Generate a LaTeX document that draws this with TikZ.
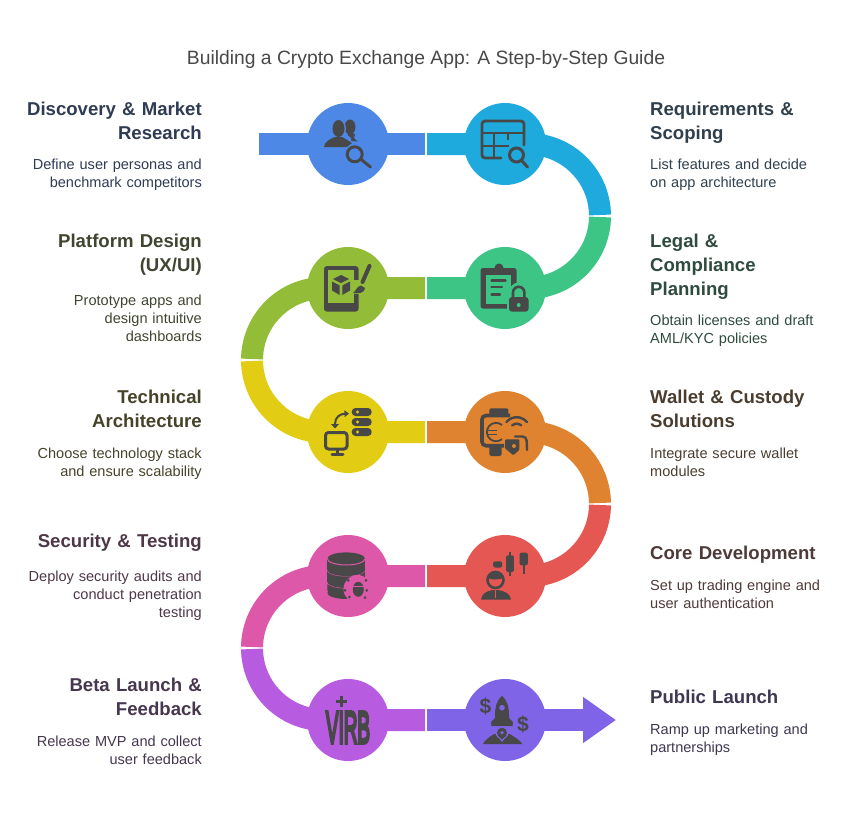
\documentclass[tikz,border=0pt]{standalone}
\usepackage{fontspec}
\setmainfont{Liberation Sans}
\newfontfamily\virbfont[FakeBold=8]{Liberation Sans}
\usetikzlibrary{positioning,arrows.meta,backgrounds,calc}

\definecolor{cDisc}{HTML}{4E88E7}
\definecolor{cReq}{HTML}{1FAADD}
\definecolor{cLegal}{HTML}{3DC585}
\definecolor{cDesign}{HTML}{93BC38}
\definecolor{cTech}{HTML}{E2CD14}
\definecolor{cWallet}{HTML}{DF8330}
\definecolor{cCore}{HTML}{E55753}
\definecolor{cSec}{HTML}{DD58A8}
\definecolor{cBeta}{HTML}{B75CE0}
\definecolor{cPub}{HTML}{7F64E8}
\definecolor{icon}{HTML}{484848}
\definecolor{tDisc}{HTML}{2F3B52}
\definecolor{tReq}{HTML}{2F3F4C}
\definecolor{tLegal}{HTML}{2F4A3E}
\definecolor{tDesign}{HTML}{3F4530}
\definecolor{tTech}{HTML}{45432A}
\definecolor{tWallet}{HTML}{4A3D30}
\definecolor{tCore}{HTML}{4E3A38}
\definecolor{tSec}{HTML}{4D3746}
\definecolor{tBeta}{HTML}{46364F}
\definecolor{tPub}{HTML}{3E3750}

% magnifier: x, y, radius, handle end x, y, ground colour
\newcommand{\magglass}[6]{
	\fill[#6] (#1,#2) circle ({#3+3});
	\draw[icon,line width=3pt] (#1,#2) circle (#3);
	\draw[icon,line width=3pt,line cap=round] ($(#1,#2)!#3*1pt!(#4,#5)$) -- (#4,#5);
}

\tikzset{
	stepnode/.style={circle,minimum size=82pt,inner sep=0pt,fill=#1},
	bar/.style={line width=22pt,draw=#1},
	headL/.style={text width=190pt,inner sep=0pt,align=right,anchor=north east,
		font=\fontsize{18.6}{24}\selectfont\bfseries},
	headR/.style={text width=190pt,inner sep=0pt,align=left,anchor=north west,
		font=\fontsize{18.6}{24}\selectfont\bfseries},
	descL/.style={text width=190pt,inner sep=0pt,align=right,
		font=\fontsize{14.55}{18}\selectfont},
	descR/.style={text width=190pt,inner sep=0pt,align=left,
		font=\fontsize{14.55}{18}\selectfont},
}

\begin{document}
\begin{tikzpicture}[x=1pt,y=1pt]
	\useasboundingbox (0,0) rectangle (852,-816);

	\node[text=icon,font=\fontsize{19.3}{22}\selectfont,inner sep=0pt] (title) at (426,-60)
		{Building a Crypto Exchange App: A Step-by-Step Guide};

	% the ten stops
	\node[stepnode=cDisc] (disc) at (348,-144) {};
	\node[stepnode=cReq] (req) at (505,-144) {};
	\node[stepnode=cDesign] (design) at (348,-288) {};
	\node[stepnode=cLegal] (legal) at (505,-288) {};
	\node[stepnode=cTech] (tech) at (348,-432) {};
	\node[stepnode=cWallet] (wallet) at (505,-432) {};
	\node[stepnode=cSec] (sec) at (348,-576) {};
	\node[stepnode=cCore] (core) at (505,-576) {};
	\node[stepnode=cBeta] (beta) at (348,-720) {};
	\node[stepnode=cPub] (pub) at (505,-720) {};

	\coordinate (start) at (259,-144);
	\coordinate (m1) at (426,-144);
	\coordinate (m2) at (426,-288);
	\coordinate (m3) at (426,-432);
	\coordinate (m4) at (426,-576);
	\coordinate (m5) at (426,-720);
	\coordinate (tip) at (616,-720);

	\begin{scope}[on background layer]
		\draw[bar=cDisc,shorten >=1pt] (start) -- (m1);
		\draw[bar=cReq] (m1) ++(1,0) -- (528,-144) arc[start angle=90,end angle=0.8,radius=72pt];
		\draw[bar=cLegal] (m2) ++(1,0) -- (528,-288) arc[start angle=-90,end angle=-0.8,radius=72pt];
		\draw[bar=cDesign] (m2) ++(-1,0) -- (324,-288) arc[start angle=90,end angle=179.2,radius=72pt];
		\draw[bar=cTech] (m3) ++(-1,0) -- (324,-432) arc[start angle=270,end angle=180.8,radius=72pt];
		\draw[bar=cWallet] (m3) ++(1,0) -- (528,-432) arc[start angle=90,end angle=0.8,radius=72pt];
		\draw[bar=cCore] (m4) ++(1,0) -- (528,-576) arc[start angle=-90,end angle=-0.8,radius=72pt];
		\draw[bar=cSec] (m4) ++(-1,0) -- (324,-576) arc[start angle=90,end angle=179.2,radius=72pt];
		\draw[bar=cBeta] (m5) ++(-1,0) -- (324,-720) arc[start angle=270,end angle=180.8,radius=72pt];
		\draw[bar=cPub,-{Triangle[width=44pt,length=33pt]}] (m5) ++(1,0) -- (tip);
	\end{scope}

	% left texts
	\node[headL,text=tDisc] (hDisc) at (202,-102) {Discovery \& Market\\Research};
	\node[descL,text=tDisc,below=19pt of hDisc] (dDisc) {Define user personas and\\benchmark competitors};
	\node[headL,text=tDesign] (hDesign) at (202,-234) {Platform Design\\(UX/UI)};
	\node[descL,text=tDesign,below=19pt of hDesign] (dDesign) {Prototype apps and\\design intuitive\\dashboards};
	\node[headL,text=tTech] (hTech) at (202,-390) {Technical\\Architecture};
	\node[descL,text=tTech,below=20pt of hTech] (dTech) {Choose technology stack\\and ensure scalability};
	\node[headL,text=tSec] (hSec) at (202,-534) {Security \& Testing};
	\node[descL,text=tSec,below=19pt of hSec] (dSec) {Deploy security audits and\\conduct penetration\\testing};
	\node[headL,text=tBeta] (hBeta) at (202,-678) {Beta Launch \&\\Feedback};
	\node[descL,text=tBeta,below=20pt of hBeta] (dBeta) {Release MVP and collect\\user feedback};

	% right texts
	\node[headR,text=tReq] (hReq) at (650,-102) {Requirements \&\\Scoping};
	\node[descR,text=tReq,below=15pt of hReq] (dReq) {List features and decide\\on app architecture};
	\node[headR,text=tLegal] (hLegal) at (650,-234) {Legal \&\\Compliance\\Planning};
	\node[descR,text=tLegal,below=15pt of hLegal] (dLegal) {Obtain licenses and draft\\AML/KYC policies};
	\node[headR,text=tWallet] (hWallet) at (650,-390) {Wallet \& Custody\\Solutions};
	\node[descR,text=tWallet,below=20pt of hWallet] (dWallet) {Integrate secure wallet\\modules};
	\node[headR,text=tCore] (hCore) at (650,-546) {Core Development};
	\node[descR,text=tCore,below=16pt of hCore] (dCore) {Set up trading engine and\\user authentication};
	\node[headR,text=tPub] (hPub) at (650,-690) {Public Launch};
	\node[descR,text=tPub,below=20pt of hPub] (dPub) {Ramp up marketing and\\partnerships};

	% people and magnifier
	\begin{scope}[shift={(disc.center)}]
		\fill[icon] (2,17) ellipse (5.5 and 7.5);
		\fill[icon] (0,12) -- (7,10) -- (6,6) -- (9.5,2.5) -- (4,3) -- (0,5) -- cycle;
		\fill[cDisc] (-9.5,15.5) ellipse (7.5 and 9.5);
		\fill[cDisc] (-5,12) -- (3,6) -- (3,-2) -- (-5,0) -- cycle;
		\fill[icon] (-9.5,15.5) ellipse (6 and 8.5);
		\fill[icon] (-24,-3) .. controls (-24,2) and (-18,5) .. (-13,7) -- (-6,7)
			.. controls (-2,5) and (2,2) .. (4,1) -- (-1,-3) -- cycle;
		\magglass{6.7}{-10.3}{7.5}{22.5}{-23}{cDisc}
	\end{scope}

	% table and magnifier
	\begin{scope}[shift={(req.center)},icon]
		\draw[line width=2.8pt,rounded corners=3pt,line cap=round] (19,-1) -- (19,23) -- (-23,23) -- (-23,-14) -- (-4,-14);
		\draw[line width=2.8pt] (-23,11) -- (19,11);
		\draw[line width=2.8pt] (-23,-2) -- (4,-2);
		\draw[line width=2.8pt] (-11,11) -- (-11,-14);
		\draw[line width=2.8pt] (3,11) -- (3,4);
		\magglass{11.5}{-11}{7}{22.5}{-23}{cReq}
	\end{scope}

	% tablet with cube and brush
	\begin{scope}[shift={(design.center)}]
		\fill[icon,rounded corners=3pt] (-24,22) rectangle (10.5,-23.7);
		\fill[cDesign] (-19.7,18) rectangle (6,-15);
		\fill[cDesign] (6,8) rectangle (12,-6);
		\fill[icon] (-7,13) -- (1,9) -- (-7,5) -- (-15,9) -- cycle;
		\fill[icon] (-16,6.5) -- (-8.3,2.5) -- (-8.3,-7) -- (-16,-2.5) -- cycle;
		\fill[icon] (2,6.5) -- (-5.7,2.5) -- (-5.7,-7) -- (2,-2.5) -- cycle;
		\draw[icon,line width=4pt,line cap=round] (21.5,22) -- (14.5,6);
		\fill[icon] (13,2.5) .. controls (9,2) and (8,-3) .. (5,-5) .. controls (10,-6) and (17,-5) .. (17,0) -- cycle;
	\end{scope}

	% clipboard and lock
	\begin{scope}[shift={(legal.center)}]
		\fill[icon,rounded corners=2.5pt] (-24.5,20) rectangle (11.5,-20.5);
		\fill[icon] (-6,20) circle (4.5);
		\fill[cLegal] (-19.5,13) rectangle (6,-15.5);
		\draw[icon,line width=2.4pt,line cap=round] (-13.5,7.5) -- (0.5,7.5) (-13.5,1) -- (-3,1) (-13.5,-6.5) -- (-5,-6.5);
		\fill[cLegal,rounded corners=3pt] (2,-6) rectangle (26,-26);
		\fill[cLegal] (13.7,-4) circle (9.5);
		\draw[icon,line width=2.6pt] (8,-10) -- (8,-4.5) arc[start angle=180,end angle=0,radius=5.7] -- (19.4,-10);
		\fill[icon,rounded corners=3pt] (4,-9) rectangle (23.5,-23.7);
		\fill[cLegal] (13.7,-17) circle (2);
	\end{scope}

	% servers and monitor
	\begin{scope}[shift={(tech.center)}]
		\foreach \yy in {20,10,0} {
			\fill[icon,rounded corners=3.8pt] (3.7,\yy+4) rectangle (23.7,\yy-4);
			\fill[cTech] (9.5,\yy) circle (1.7);
		}
		\draw[icon,line width=3pt,rounded corners=3pt] (-22.5,-0.5) rectangle (-1,-17);
		\fill[icon] (-11.7,-17) rectangle (-9.3,-22);
		\draw[icon,line width=3pt,line cap=round] (-16,-22) -- (-5,-22);
		\draw[icon,line width=2pt,-{Triangle[width=6.5pt,length=4.5pt]}] (-13,8) .. controls (-13,15) and (-8,18) .. (1,18.5);
		\fill[icon] (-13,3.5) -- (-17,8) -- (-9,8) -- cycle;
	\end{scope}

	% watch, euro and wallet
	\begin{scope}[shift={(wallet.center)}]
		\fill[icon,rounded corners=1.5pt] (-15.7,23.7) rectangle (3.3,16);
		\fill[icon,rounded corners=1.5pt] (-15.7,-14) rectangle (-3.3,-24);
		\draw[icon,line width=3.6pt,rounded corners=4pt] (5,16.5) -- (-23,16.5) -- (-23,-13.7) -- (-1,-13.7);
		\draw[icon,line width=1.8pt] (-3,7) arc[start angle=50,end angle=310,radius=9.2];
		\draw[icon,line width=1.6pt] (-17,1.5) -- (-8,1.5) (-17,-2.5) -- (-8,-2.5);
		\draw[icon,line width=2.4pt,line cap=round] (11.7,1.3) ++(140:13.5) arc[start angle=140,end angle=40,radius=13.5];
		\draw[icon,line width=2.4pt,line cap=round] (11.7,1.3) ++(130:7) arc[start angle=130,end angle=50,radius=7];
		\draw[icon,line width=2.4pt,line cap=round,rounded corners=4pt] (10,-4.5) -- (21.5,-4.5) -- (22,-18);
		\fill[icon,rounded corners=1pt] (0,-7.3) -- (14.3,-7.3) -- (14.3,-18) -- (8.3,-23.3) -- (0,-16.3) -- cycle;
		\fill[cWallet] (9,-14) circle (2);
	\end{scope}

	% database and bug
	\begin{scope}[shift={(sec.center)}]
		\fill[icon,rounded corners=3pt] (-20.7,-6) rectangle (17,-17);
		\fill[icon] (-1.8,-17) ellipse (18.8 and 6);
		\draw[cSec,line width=1pt] (-20.7,-6) arc[start angle=180,end angle=360,x radius=18.85,y radius=6];
		\fill[icon] (-20.7,6) rectangle (17,-6);
		\fill[icon] (-1.8,-6) ellipse (18.85 and 6);
		\draw[cSec,line width=1pt] (-20.7,6) arc[start angle=180,end angle=360,x radius=18.85,y radius=6];
		\fill[icon] (-20.7,17) rectangle (17,6);
		\fill[icon] (-1.8,6) ellipse (18.85 and 6);
		\fill[icon] (-1.8,17.3) ellipse (18.85 and 6.3);
		\draw[cSec,line width=1pt] (-20.7,17.3) arc[start angle=180,end angle=360,x radius=18.85,y radius=6.3];
		\fill[cSec] (9.5,-13) circle (14);
		\fill[icon] (10.3,-13.3) ellipse (5.5 and 7.5);
		\draw[cSec,line width=1pt] (4.8,-10.5) -- (15.8,-10.5);
		\foreach \xx/\yy in {0.3/-4.3,18/-4.3,-3/-14.3,18.7/-14.3,1.3/-21,17/-21.7} {
			\fill[icon] (\xx,\yy) circle (1.5);
		}
	\end{scope}

	% trader and candles
	\begin{scope}[shift={(core.center)},icon]
		\fill[rounded corners=1.5pt] (1,20.7) rectangle (8.8,4);
		\draw[line width=2.2pt] (4.9,24) -- (4.9,0.5);
		\fill[rounded corners=2pt] (14.5,23.3) rectangle (22.8,10.7);
		\draw[line width=2.2pt] (18.6,12) -- (18.6,2.3);
		\fill[rounded corners=2pt] (-11.8,14.7) rectangle (-2.8,8.5);
		\fill (-24,-23.5) .. controls (-23,-17) and (-18,-15) .. (-12,-14) -- (-7,-14)
			.. controls (-1,-15) and (5,-17) .. (6,-23.5) -- cycle;
		\draw[cCore,line width=1pt] (-9.5,-14) -- (-9.5,-22);
		\fill[cCore] (-9.5,-4) circle (9.5);
		\draw[line width=2.6pt] (-9.5,-4) circle (8);
		\fill (-17,-2) .. controls (-14,-4) and (-6,-4) .. (-2,-2) .. controls (-2,6) and (-17,6) .. (-17,-2) -- cycle;
	\end{scope}

	% badge and plus
	\begin{scope}[shift={(beta.center)}]
		\node[icon,inner sep=0pt,transform shape,xscale=.42,font=\fontsize{45}{45}\virbfont] (virb) at (0,-7.5) {VIRB};
		\draw[icon,line width=3pt] (-12.3,19) -- (-1.3,19) (-6.8,13.5) -- (-6.8,24.5);
	\end{scope}

	% rocket and dollars
	\begin{scope}[shift={(pub.center)}]
		\fill[icon] (-3,24) .. controls (3,19) and (4,12) .. (4,4) -- (4,2) -- (8,-2) -- (7.5,-6)
			-- (-13.5,-6) -- (-14,-2) -- (-10,2) -- (-10,4) .. controls (-10,12) and (-9,19) .. (-3,24) -- cycle;
		\fill[cPub] (-3,12.3) circle (2.8);
		\node[icon,inner sep=0pt,font=\fontsize{21}{21}\selectfont\bfseries] (dlrA) at (-19.5,14) {\$};
		\node[icon,inner sep=0pt,font=\fontsize{21}{21}\selectfont\bfseries] (dlrB) at (18,-4.5) {\$};
		\fill[icon] (-22,-24) .. controls (-20,-20) and (-16,-17) .. (-11,-14) -- (5,-14)
			.. controls (9,-17) and (15,-20) .. (17.5,-24) -- cycle;
		\fill[cPub] (-3,-12.5) circle (6.5);
		\fill[cPub] (-9,-14) -- (3,-14) -- (-3,-22) -- cycle;
		\fill[icon] (-3,-12.7) circle (5);
		\fill[icon] (-7.5,-15) -- (1.5,-15) -- (-3,-19.5) -- cycle;
		\fill[cPub] (-3,-12.7) circle (1.8);
	\end{scope}
\end{tikzpicture}
\end{document}
